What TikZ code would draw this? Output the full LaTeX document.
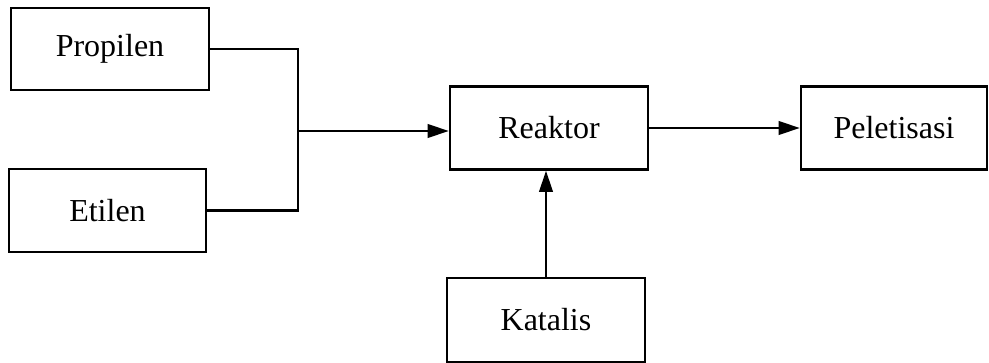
\documentclass[tikz,border=0pt]{standalone}
\usepackage{fontspec}
\setmainfont{Liberation Serif}
\usetikzlibrary{arrows.meta, calc, positioning}

\tikzset{
    unit/.style={draw, line width=1.6pt, inner sep=0pt, font=\fontsize{24}{28}\selectfont},
    pipe/.style={line width=2.2pt},
    feed/.style={pipe, -{Triangle[length=16pt, width=10pt]}}
}

\begin{document}
\begin{tikzpicture}[x=0.75pt, y=-0.75pt]
			\useasboundingbox (0, 0) rectangle (989, 363);
			
			% bahan baku
			\node[unit, minimum width=198*0.75pt, minimum height=82*0.75pt] (prop) at (110, 49) {Propilen};
			\node[unit, minimum width=197*0.75pt, minimum height=83*0.75pt] (etil) at (107.5, 210.5) {Etilen};
			
			% proses
			\node[unit, minimum width=198*0.75pt, minimum height=83*0.75pt] (reak) at (549, 128) {Reaktor};
			\node[unit, minimum width=186*0.75pt, minimum height=83*0.75pt] (pel) at (894, 128) {Peletisasi};
			\node[unit, minimum width=198*0.75pt, minimum height=84*0.75pt] (kat) at (546, 320) {Katalis};
			
			\coordinate (j) at (298, 131);
			
			\draw[pipe] (prop.east) -| (j) |- (etil.east);
			\draw[feed] (j) -- (j -| reak.west);
			\draw[feed] (reak.east) -- (pel.west);
			\draw[feed] (kat.north) -- (kat.north |- reak.south);
			
		\end{tikzpicture}
\end{document}
